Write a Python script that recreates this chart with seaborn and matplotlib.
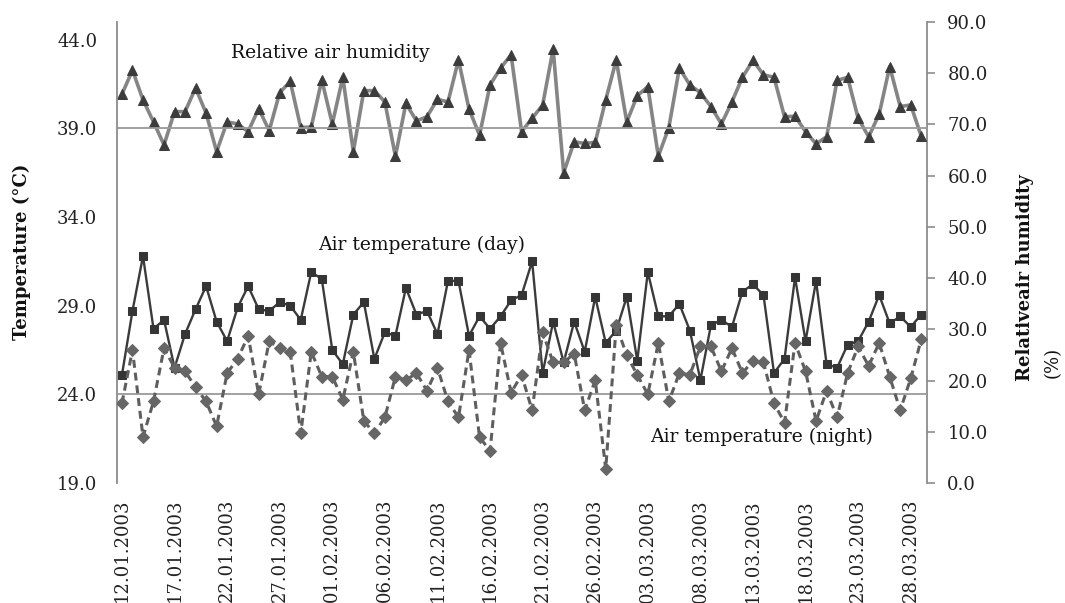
import numpy as np
import pandas as pd
import matplotlib
matplotlib.use("Agg")
import matplotlib.pyplot as plt
from matplotlib.ticker import FormatStrFormatter, FixedLocator
import seaborn as sns

# ---------------- data ----------------
start_date = "2003-01-12"

humidity = [75.9, 80.6, 74.8, 70.5, 66.0, 72.5, 72.5, 77.1, 72.2, 64.7,
            70.5, 70.1, 68.6, 73.1, 68.8, 76.2, 78.4, 69.4, 69.5, 78.7,
            70.1, 79.2, 64.7, 76.6, 76.6, 74.4, 63.8, 74.1, 70.7, 71.5,
            74.9, 74.4, 82.6, 73.0, 67.9, 77.7, 81.0, 83.6, 68.6, 71.2,
            73.8, 84.7, 60.6, 66.6, 66.3, 66.5, 74.8, 82.6, 70.5, 75.6,
            77.4, 63.8, 69.4, 81.0, 77.7, 76.2, 73.5, 70.1, 74.4, 79.2,
            82.5, 79.7, 79.2, 71.5, 71.6, 68.6, 66.2, 67.6, 78.6, 79.2,
            71.2, 67.6, 72.0, 81.3, 73.5, 73.8, 67.7]

temp_day = [25.1, 28.7, 31.8, 27.7, 28.2, 25.5, 27.4, 28.8, 30.1, 28.1,
            27.0, 28.9, 30.1, 28.8, 28.7, 29.2, 29.0, 28.2, 30.9, 30.5,
            26.5, 25.7, 28.5, 29.2, 26.0, 27.5, 27.3, 30.0, 28.5, 28.7,
            27.4, 30.4, 30.4, 27.3, 28.4, 27.7, 28.4, 29.3, 29.6, 31.5,
            25.2, 28.1, 25.8, 28.1, 26.4, 29.5, 26.9, 27.6, 29.5, 25.9,
            30.9, 28.4, 28.4, 29.1, 27.6, 24.8, 27.9, 28.2, 27.8, 29.8,
            30.2, 29.6, 25.2, 26.0, 30.6, 27.0, 30.4, 25.7, 25.5, 26.8,
            27.0, 28.1, 29.6, 28.0, 28.4, 27.8, 28.5]

temp_night = [23.5, 26.5, 21.6, 23.6, 26.6, 25.5, 25.3, 24.4, 23.6, 22.2,
              25.2, 26.0, 27.3, 24.0, 27.0, 26.6, 26.4, 21.8, 26.4, 25.0,
              25.0, 23.7, 26.4, 22.5, 21.8, 22.7, 25.0, 24.8, 25.2, 24.2,
              25.5, 23.6, 22.7, 26.5, 21.6, 20.8, 26.9, 24.1, 25.1, 23.1,
              27.5, 25.8, 25.8, 26.3, 23.1, 24.8, 19.8, 27.9, 26.2, 25.1,
              24.0, 26.9, 23.6, 25.2, 25.1, 26.7, 26.7, 25.3, 26.6, 25.2,
              25.9, 25.8, 23.5, 22.4, 26.9, 25.3, 22.5, 24.2, 22.7, 25.2,
              26.7, 25.6, 26.9, 25.0, 23.1, 24.9, 27.1]

left_ticks = [19.0, 24.0, 29.0, 34.0, 39.0, 44.0]
right_ticks = [0.0, 10.0, 20.0, 30.0, 40.0, 50.0, 60.0, 70.0, 80.0, 90.0]
ref_lines = [24.0, 39.0]
label_step = 5

series_labels = ["Relative air humidity", "Air temperature (day)", "Air temperature (night)"]
left_title = "Temperature (°C)"
right_title = "Relativeair humidity"
right_unit = "(%)"

# ---------------- frame ----------------
n = len(humidity)
dates = pd.date_range(start_date, periods=n, freq="D")
df = pd.DataFrame({
    "pos": np.arange(n),
    "date": dates.strftime("%d.%m.%Y"),
    "humidity": humidity,
    "day": temp_day,
    "night": temp_night,
})

sns.set_style("white")
plt.rcParams["font.family"] = ["DejaVu Serif"]
plt.rcParams["font.size"] = 13

W, H = 1065, 603
fig = plt.figure(figsize=(W / 100, H / 100), dpi=100)
x0, x1, ytop, ybot = 116.7, 926.5, 22, 483
ax = fig.add_axes([x0 / W, 1 - ybot / H, (x1 - x0) / W, (ybot - ytop) / H])
ax2 = ax.twinx()

for v in ref_lines:
    ax.axhline(v, color="#9a9a9a", lw=1.3, zorder=1)

sns.lineplot(data=df, x="pos", y="day", ax=ax, color="#3b3b3b", lw=1.7,
             marker="s", markersize=6, markerfacecolor="#353535",
             markeredgecolor="#353535", zorder=3)
sns.lineplot(data=df, x="pos", y="night", ax=ax, color="#5e5e5e", lw=2.2,
             linestyle=(0, (2.6, 1.6)), marker="D", markersize=6.5,
             markerfacecolor="#666666", markeredgecolor="#666666", zorder=4)
sns.lineplot(data=df, x="pos", y="humidity", ax=ax2, color="#858585", lw=2.6,
             marker="^", markersize=7.5, markerfacecolor="#3c3c3c",
             markeredgecolor="#3c3c3c", zorder=3)

ax.set_xlim(-0.5, n - 0.5)
ax.set_ylim(19, 45)
ax2.set_ylim(0, 90)
ax.set_yticks(left_ticks)
ax2.set_yticks(right_ticks)
ax.yaxis.set_major_formatter(FormatStrFormatter("%.1f"))
ax2.yaxis.set_major_formatter(FormatStrFormatter("%.1f"))

major_pos = df["pos"].values[::label_step]
ax.set_xticks(major_pos)
ax.set_xticklabels(df["date"].values[::label_step], rotation=90)
ax.xaxis.set_minor_locator(FixedLocator(df["pos"].values))

for a in (ax, ax2):
    a.set_xlabel("")
    a.set_ylabel("")
    a.grid(False)
    for s in ("top", "bottom"):
        a.spines[s].set_visible(False)
ax.spines["right"].set_visible(False)
ax2.spines["left"].set_visible(False)
ax.spines["left"].set_color("#8c8c8c")
ax.spines["left"].set_linewidth(1.3)
ax2.spines["right"].set_color("#8c8c8c")
ax2.spines["right"].set_linewidth(1.3)

ax.tick_params(axis="y", length=0, pad=14, labelsize=13, labelcolor="#222222")
ax2.tick_params(axis="y", length=6, width=1.2, color="#8c8c8c", direction="out",
                pad=9, labelsize=13, labelcolor="#222222")
ax.tick_params(axis="x", which="major", length=5, width=1.0, color="#9a9a9a",
               direction="inout", pad=9, labelsize=13, labelcolor="#222222")
ax.tick_params(axis="x", which="minor", length=3, width=0.8, color="#9a9a9a",
               direction="in")

ax.set_zorder(ax2.get_zorder() + 1)
ax.patch.set_visible(False)

def px(x, y):
    return x / W, 1 - y / H

fig.text(*px(330, 53), series_labels[0], ha="center", va="center", fontsize=13.5, color="#111111")
fig.text(*px(422, 245), series_labels[1], ha="center", va="center", fontsize=13.5, color="#111111")
fig.text(*px(762, 437), series_labels[2], ha="center", va="center", fontsize=13.5, color="#111111")

fig.text(*px(22, 252), left_title, rotation=90, ha="center", va="center",
         fontsize=13, fontweight="bold", color="#111111")
fig.text(*px(1025, 278), right_title, rotation=90, ha="center", va="center",
         fontsize=13, fontweight="bold", color="#111111")
fig.text(*px(1053, 378), right_unit, rotation=90, ha="center", va="bottom",
         fontsize=13, color="#111111")

fig.savefig("out.png", dpi=100)
